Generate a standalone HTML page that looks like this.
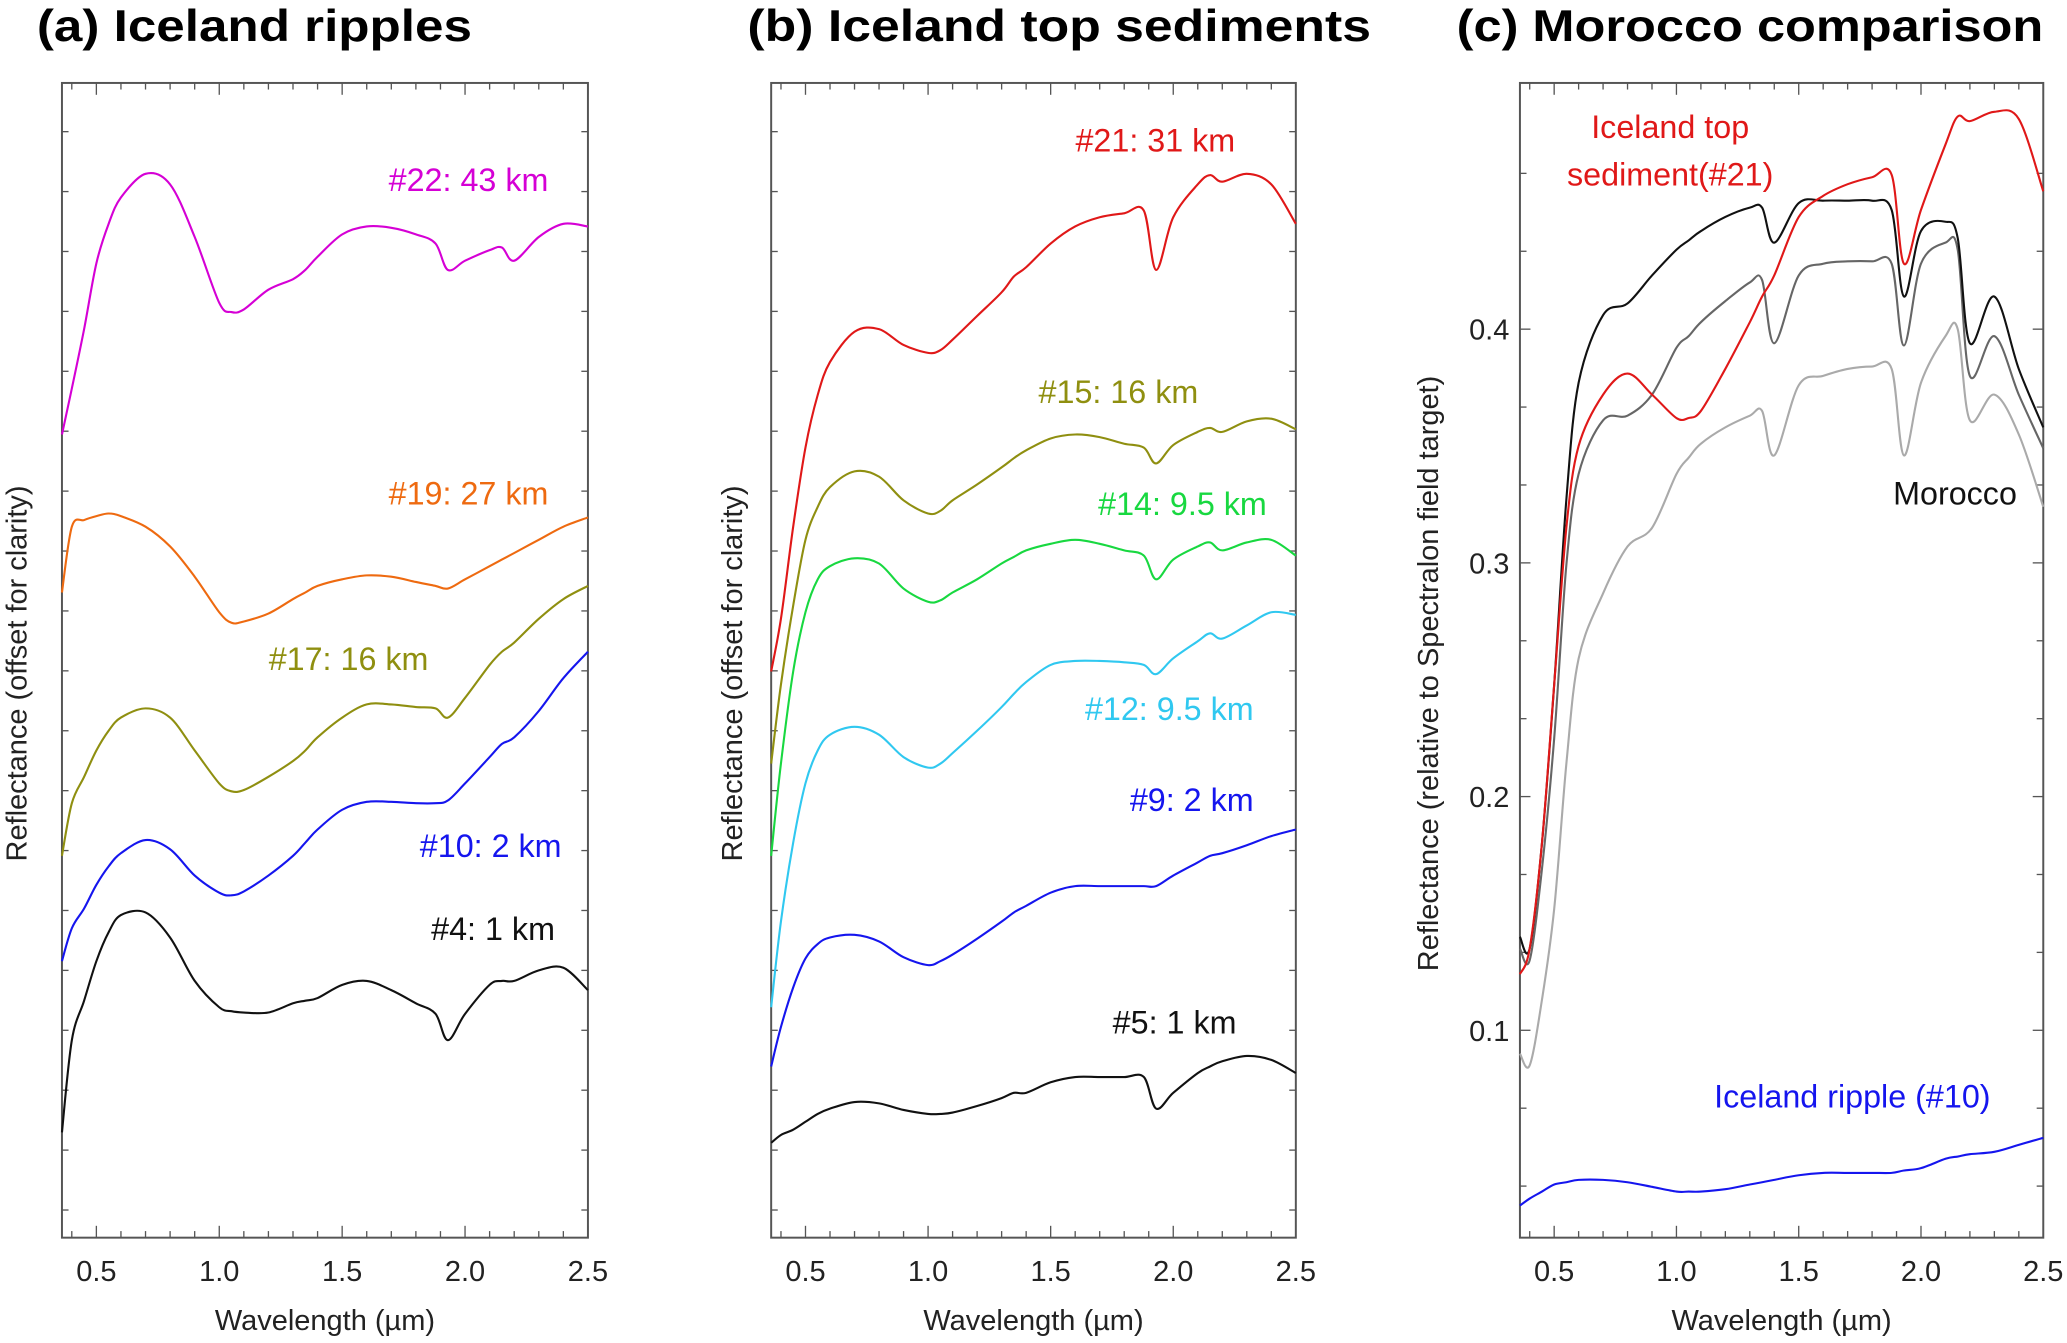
<!DOCTYPE html>
<html><head><meta charset="utf-8"><style>
html,body{margin:0;padding:0;background:#fff;}
svg{display:block;}
text{font-family:"Liberation Sans",sans-serif;}
</style></head><body>
<svg id="fig" width="2067" height="1343" viewBox="0 0 1568 1020" preserveAspectRatio="none" xmlns="http://www.w3.org/2000/svg">
<g id="root"></g>
</svg>
<script>
const W = [0.36,0.40,0.45,0.5,0.55,0.6,0.7,0.8,0.9,1.0,1.05,1.1,1.2,1.3,1.35,1.4,1.5,1.6,1.7,1.8,1.88,1.93,2.0,2.1,2.15,2.2,2.3,2.4,2.5];
// Panel a (offset units)
const a22 = [6.10,6.45,6.90,7.40,7.70,7.90,8.08,8.00,7.60,7.10,7.03,7.05,7.20,7.28,7.35,7.45,7.62,7.68,7.67,7.62,7.55,7.35,7.42,7.50,7.52,7.42,7.60,7.70,7.68];
const a19 = [4.90,5.40,5.45,5.48,5.50,5.48,5.40,5.25,5.02,4.75,4.67,4.68,4.74,4.85,4.90,4.95,5.00,5.03,5.02,4.98,4.95,4.93,5.00,5.10,5.15,5.20,5.30,5.40,5.47];
const a17 = [2.90,3.30,3.50,3.70,3.85,3.95,4.02,3.95,3.70,3.45,3.39,3.40,3.50,3.62,3.70,3.80,3.95,4.05,4.05,4.03,4.02,3.95,4.10,4.35,4.45,4.52,4.70,4.85,4.95];
const a10 = [2.10,2.35,2.50,2.68,2.82,2.92,3.02,2.95,2.75,2.62,2.60,2.63,2.75,2.90,3.00,3.10,3.25,3.31,3.31,3.30,3.30,3.32,3.45,3.65,3.75,3.80,4.00,4.25,4.45];
const a4 = [0.80,1.50,1.80,2.10,2.32,2.45,2.47,2.28,1.95,1.75,1.72,1.71,1.71,1.78,1.80,1.82,1.92,1.95,1.88,1.78,1.70,1.50,1.70,1.92,1.95,1.95,2.03,2.05,1.88];
// Panel b
const b21 = [4.30,4.70,5.40,6.00,6.40,6.65,6.88,6.90,6.78,6.72,6.74,6.82,7.00,7.18,7.30,7.37,7.55,7.68,7.75,7.78,7.80,7.35,7.75,8.00,8.07,8.02,8.08,8.00,7.70];
const b15 = [3.60,4.20,4.80,5.30,5.55,5.70,5.82,5.78,5.60,5.50,5.52,5.60,5.72,5.85,5.92,5.98,6.07,6.10,6.08,6.03,6.00,5.88,6.02,6.12,6.15,6.12,6.20,6.22,6.14];
const b14 = [2.90,3.60,4.30,4.75,5.00,5.10,5.16,5.12,4.93,4.83,4.84,4.90,5.00,5.12,5.17,5.22,5.27,5.30,5.27,5.22,5.18,5.00,5.15,5.25,5.28,5.22,5.28,5.30,5.18];
const b12 = [1.75,2.40,3.00,3.45,3.70,3.82,3.88,3.82,3.65,3.57,3.60,3.68,3.85,4.03,4.13,4.22,4.35,4.38,4.38,4.37,4.35,4.28,4.40,4.53,4.59,4.55,4.65,4.75,4.73];
const b9 = [1.30,1.60,1.90,2.12,2.23,2.28,2.30,2.25,2.13,2.07,2.10,2.15,2.27,2.40,2.47,2.52,2.62,2.67,2.67,2.67,2.67,2.67,2.75,2.85,2.90,2.92,2.98,3.05,3.10];
const b5 = [0.72,0.78,0.82,0.88,0.94,0.98,1.03,1.02,0.97,0.94,0.94,0.95,1.00,1.06,1.10,1.10,1.18,1.22,1.22,1.22,1.22,0.98,1.10,1.25,1.30,1.34,1.38,1.35,1.25];
// Panel c (reflectance)
const cRed = [0.124,0.135,0.18,0.248,0.315,0.35,0.372,0.381,0.372,0.362,0.362,0.365,0.383,0.403,0.414,0.423,0.448,0.457,0.462,0.465,0.466,0.428,0.451,0.479,0.491,0.489,0.493,0.490,0.459];
const cBlack = [0.140,0.135,0.18,0.248,0.327,0.377,0.406,0.411,0.423,0.434,0.438,0.442,0.448,0.452,0.452,0.437,0.454,0.455,0.455,0.455,0.451,0.414,0.442,0.446,0.439,0.394,0.414,0.383,0.358];
const cGrey = [0.135,0.130,0.169,0.225,0.299,0.338,0.361,0.363,0.372,0.392,0.397,0.403,0.412,0.420,0.421,0.394,0.423,0.428,0.429,0.429,0.428,0.393,0.428,0.437,0.434,0.380,0.397,0.372,0.349];
const cLight = [0.090,0.085,0.113,0.152,0.214,0.259,0.287,0.307,0.315,0.338,0.345,0.351,0.358,0.363,0.365,0.346,0.376,0.380,0.383,0.384,0.383,0.346,0.377,0.397,0.400,0.361,0.372,0.355,0.324];
const cBlue = [0.025,0.028,0.031,0.034,0.035,0.036,0.036,0.035,0.033,0.031,0.031,0.031,0.032,0.034,0.035,0.036,0.038,0.039,0.039,0.039,0.039,0.040,0.041,0.045,0.046,0.047,0.048,0.051,0.054];
const xTicks = ["0.5","1.0","1.5","2.0","2.5"];
const cYTicks = ["0.1","0.2","0.3","0.4"];

const NS = "http://www.w3.org/2000/svg";
const root = document.getElementById('root');
function el(tag, attrs, parent, txt){const e=document.createElementNS(NS,tag);for(const k in attrs)e.setAttribute(k,attrs[k]);if(txt!==undefined)e.textContent=txt;(parent||root).appendChild(e);return e;}
const TOP=63, BOT=940;
function mkX(x0,x1){return w=>x0+(w-0.36)*(x1-x0)/(2.5-0.36);}
function path(xs,ys){let d=`M${xs[0]},${ys[0]}`;for(let i=0;i<xs.length-1;i++){const p0=i>0?i-1:i,p3=i+2<xs.length?i+2:i+1;const c1x=xs[i]+(xs[i+1]-xs[p0])/6,c1y=ys[i]+(ys[i+1]-ys[p0])/6,c2x=xs[i+1]-(xs[p3]-xs[i])/6,c2y=ys[i+1]-(ys[p3]-ys[i])/6;d+=` C${c1x.toFixed(1)},${c1y.toFixed(1)} ${c2x.toFixed(1)},${c2y.toFixed(1)} ${xs[i+1].toFixed(1)},${ys[i+1].toFixed(1)}`;}return d;}

function panel(id,x0,x1,title,titleX,titleLen,ylabel,ylx,yFn,yTickVals){
  const g=el('g',{});
  
  
  const X=mkX(x0,x1);
  const t=el('text',{x:titleX,y:31,'font-size':34,'font-weight':'bold',textLength:titleLen,lengthAdjust:'spacingAndGlyphs'},g,title);
  
  
  const box=el('rect',{x:x0,y:TOP,width:x1-x0,height:BOT-TOP,fill:'none',stroke:'#555','stroke-width':1.5},g);
  
  
  for(let w=0.4;w<=2.51;w+=0.1){const major=Math.abs(w*2-Math.round(w*2))<0.01;const L=major?9:5;const px=X(w);
    el('line',{x1:px,x2:px,y1:BOT,y2:BOT-L,stroke:'#555','stroke-width':1},g);
    el('line',{x1:px,x2:px,y1:TOP,y2:TOP+L,stroke:'#555','stroke-width':1},g);}
  xTicks.forEach(s=>{const lt=el('text',{x:X(parseFloat(s)),y:973,'font-size':22,'text-anchor':'middle',fill:'#222'},g,s);
    
    });
  yTickVals.forEach(v=>{const py=yFn(v.v);const L=v.major?8:5;
    el('line',{x1:x0,x2:x0+L,y1:py,y2:py,stroke:'#555','stroke-width':1},g);
    el('line',{x1:x1,x2:x1-L,y1:py,y2:py,stroke:'#555','stroke-width':1},g);});
  const xl=el('text',{x:(x0+x1)/2,y:1010,'font-size':22,'text-anchor':'middle',fill:'#222'},g,'Wavelength (µm)');
  
  
  const yl=el('text',{x:0,y:0,'font-size':22,'text-anchor':'middle',fill:'#222',transform:`translate(${ylx},${(TOP+BOT)/2+10}) rotate(-90)`},g,ylabel);
  
  
  return {g,X};
}
function series(P,yFn,vals,color,name,w){
  const xs=W.map(P.X), ys=vals.map(yFn);
  const p=el('path',{d:path(xs,ys),fill:'none',stroke:color,'stroke-width':w||1.6,'stroke-linejoin':'round'},P.g);
  
  
}
function label(P,x,y,txt,color,anchor,name){
  const t=el('text',{x:x,y:y,'font-size':24.5,'text-anchor':anchor||'end',fill:color},P.g,txt);
  
  
}
const yOff=v=>BOT-v*100;
const offTicks=[];for(let v=8.40;v>0.1;v-=0.455)offTicks.push({v:v,major:false});
const yC=r=>250-(r-0.4)*1775;
const cTicks=[];for(let k=0;k<=14;k++){const r=0.0+k/30;const py=yC(r);if(py>TOP+2&&py<BOT-2)cTicks.push({v:r,major:k%3===0});}

const A=panel('panel-a-iceland-ripples',47,446,'(a) Iceland ripples',28,330,'Reflectance (offset for clarity)',20,yOff,offTicks);
series(A,yOff,a22,'#d500d5','series-22');
series(A,yOff,a19,'#ee6a10','series-19');
series(A,yOff,a17,'#8f8f10','series-17');
series(A,yOff,a10,'#1515ee','series-10');
series(A,yOff,a4,'#111','series-4');
label(A,416,145,'#22: 43 km','#d500d5','end','label-22');
label(A,416,383,'#19: 27 km','#ee6a10','end','label-19');
label(A,325,509,'#17: 16 km','#8f8f10','end','label-17');
label(A,426,651,'#10: 2 km','#1515ee','end','label-10');
label(A,421,714,'#4: 1 km','#111','end','label-4');

const B=panel('panel-b-iceland-top-sediments',585,983,'(b) Iceland top sediments',567,473,'Reflectance (offset for clarity)',563,yOff,offTicks);
series(B,yOff,b21,'#e01818','series-21');
series(B,yOff,b15,'#8f8f10','series-15');
series(B,yOff,b14,'#18d840','series-14');
series(B,yOff,b12,'#30c8f0','series-12');
series(B,yOff,b9,'#1515ee','series-9');
series(B,yOff,b5,'#111','series-5');
label(B,937,115,'#21: 31 km','#e01818','end','label-21');
label(B,909,306,'#15: 16 km','#8f8f10','end','label-15');
label(B,961,391,'#14: 9.5 km','#18d840','end','label-14');
label(B,951,547,'#12: 9.5 km','#30c8f0','end','label-12');
label(B,951,616,'#9: 2 km','#1515ee','end','label-9');
label(B,938,785,'#5: 1 km','#111','end','label-5');

const C=panel('panel-c-morocco-comparison',1153,1550,'(c) Morocco comparison',1105,445,'Reflectance (relative to Spectralon field target)',1091,yC,cTicks);
cYTicks.forEach(s=>{const t=el('text',{x:1145,y:yC(parseFloat(s))+8,'font-size':22,'text-anchor':'end',fill:'#222'},C.g,s);
  
  });
series(C,yC,cLight,'#aaa','morocco-light');
series(C,yC,cGrey,'#666','morocco-mid');
series(C,yC,cBlack,'#111','morocco-dark');
series(C,yC,cRed,'#e01818','iceland-sediment-21');
series(C,yC,cBlue,'#1515ee','iceland-ripple-10');
label(C,1267,105,'Iceland top','#e01818','middle','label-iceland-top');
label(C,1267,141,'sediment(#21)','#e01818','middle','label-sediment-21');
label(C,1530,383,'Morocco','#111','end','label-morocco');
label(C,1510,841,'Iceland ripple (#10)','#1515ee','end','label-iceland-ripple');
</script>
</body></html>
